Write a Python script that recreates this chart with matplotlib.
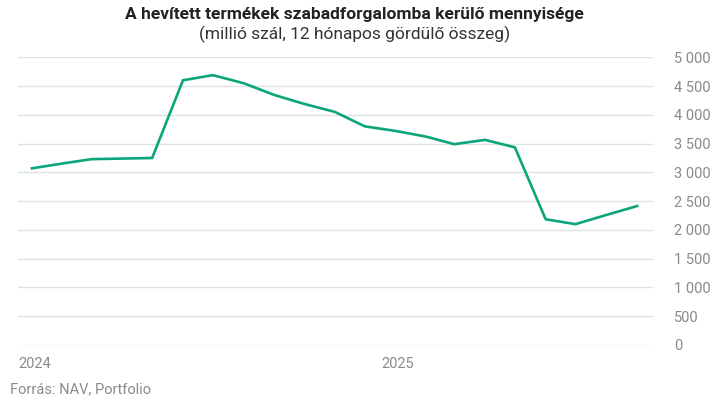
import matplotlib
matplotlib.use("Agg")
import matplotlib.pyplot as plt
import matplotlib.ticker as mticker
import pandas as pd

plt.rcParams["font.family"] = ["Roboto", "DejaVu Sans"]

# havi adatok, 2024 jan - 2025 szept (millió szál), hónap közepére téve
months = pd.date_range("2024-01-01", periods=21, freq="MS") + pd.Timedelta(days=14)
values = [3070, 3155, 3230, 3240, 3250, 4600, 4690, 4550, 4345, 4190, 4050,
          3800, 3720, 3620, 3490, 3565, 3435, 2185, 2100, 2260, 2415]
year_ticks = ["2024-01-01", "2025-01-01"]
year_labels = ["2024", "2025"]

title = "A hevített termékek szabadforgalomba kerülő mennyisége"
subtitle = "(millió szál, 12 hónapos gördülő összeg)"
source = "Forrás: NAV, Portfolio"

grey = "#8a8a8a"

fig = plt.figure(figsize=(7.14, 4.04), dpi=100)
ax = fig.add_axes([18 / 714, 59 / 404, 635 / 714, 287.7 / 404])

ax.plot(months, values, color="#0ba57c", lw=1.9, solid_joinstyle="miter", zorder=3)

ax.set_ylim(0, 5000)
ax.set_xlim(pd.Timestamp("2024-01-01"), pd.Timestamp("2025-10-01"))
ax.yaxis.set_major_locator(mticker.MultipleLocator(500))
ax.yaxis.set_major_formatter(mticker.FuncFormatter(lambda v, p: f"{int(v):,}".replace(",", " ")))
ax.yaxis.tick_right()
ax.tick_params(axis="y", length=0, pad=15, labelsize=10.5, labelcolor=grey)
for lab in ax.get_yticklabels():
    lab.set_horizontalalignment("left")

ax.set_xticks(pd.to_datetime(year_ticks))
ax.set_xticklabels(year_labels)
ax.tick_params(axis="x", length=0, pad=9, labelsize=10.5, labelcolor=grey)
for lab in ax.get_xticklabels():
    lab.set_horizontalalignment("left")

ax.grid(axis="y", color="#dde3e3", lw=1.0)
ax.grid(axis="x", visible=False)
for s in ax.spines.values():
    s.set_visible(False)

fig.text(354 / 714, 1 - 14 / 404, title, ha="center", va="center",
         fontsize=12.5, fontweight="bold", color="#222222")
fig.text(355 / 714, 1 - 34 / 404, subtitle, ha="center", va="center",
         fontsize=12.5, color="#333333")
fig.text(10 / 714, 1 - 389 / 404, source, ha="left", va="center",
         fontsize=10.5, color=grey)

fig.savefig("out.png", dpi=100)
